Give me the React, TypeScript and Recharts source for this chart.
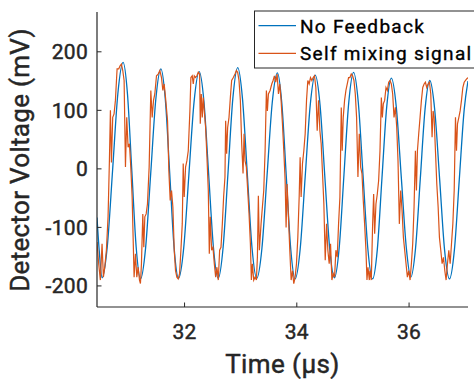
import React from 'react';
import { LineChart, Line, XAxis, YAxis } from 'recharts';

// ---- data ----
const seriesNames = ['No Feedback', 'Self mixing signal'];
const seriesColors = ['#0072BD', '#D95319'];
const xTicks = [32, 34, 36];
const yTicks = [-200, -100, 0, 100, 200];
const xDomain: [number, number] = [30.44, 37.05];
const yDomain: [number, number] = [-236, 268];
const xLabel = 'Time (µs)';
const yLabel = 'Detector Voltage (mV)';

// time (µs), voltage (mV)
const noFeedback: [number, number][] = [
  [30.44, -83], [30.48, -140], [30.53, -186],
  [30.624, -132], [30.718, -2], [30.811, 128], [30.905, 182],
  [30.983, 128], [31.06, -3], [31.138, -134], [31.215, -188],
  [31.306, -135], [31.397, -8], [31.487, 118], [31.578, 171],
  [31.657, 119], [31.736, -8], [31.814, -135], [31.893, -187],
  [31.985, -135], [32.077, -10], [32.169, 114], [32.261, 166],
  [32.346, 114], [32.43, -10], [32.515, -135], [32.6, -187],
  [32.687, -134], [32.774, -7], [32.86, 120], [32.947, 173],
  [33.032, 120], [33.117, -7], [33.201, -134], [33.286, -187],
  [33.378, -136], [33.47, -11], [33.562, 113], [33.654, 164],
  [33.733, 112], [33.812, -12], [33.891, -136], [33.97, -188],
  [34.06, -137], [34.149, -14], [34.239, 109], [34.328, 160],
  [34.414, 109], [34.499, -13], [34.585, -135], [34.67, -186],
  [34.755, -135], [34.84, -10], [34.926, 114], [35.011, 165],
  [35.096, 113], [35.18, -11], [35.265, -136], [35.35, -188],
  [35.434, -138], [35.517, -16], [35.601, 105], [35.684, 155],
  [35.773, 105], [35.862, -15], [35.951, -135], [36.03, -185],
  [36.115, -136], [36.2, -17], [36.285, 102], [36.369, 151],
  [36.457, 101], [36.545, -18], [36.632, -138], [36.72, -188],
  [36.808, -138], [36.895, -18], [36.983, 102], [37.05, 150],
];

const selfMixing: [number, number][] = [
  [30.44, -125], [30.47, -162], [30.5, -190], [30.53, -128], [30.554, -185],
  [30.578, -168], [30.607, -139], [30.637, -82], [30.661, 14], [30.679, 100],
  [30.697, 11], [30.72, 88], [30.744, 94], [30.768, 117], [30.798, 171],
  [30.828, 171], [30.851, 176], [30.875, 179], [30.899, 168], [30.923, 151],
  [30.947, 3], [30.97, 88], [30.994, 37], [31.018, 43], [31.042, 3],
  [31.066, -48], [31.101, -185], [31.125, -145], [31.149, -185], [31.173, -168],
  [31.197, -190], [31.214, -196], [31.232, -162], [31.256, -77], [31.274, -134],
  [31.292, -82], [31.316, -77], [31.339, -60], [31.369, 3], [31.399, 134],
  [31.423, 88], [31.447, 117], [31.47, 128], [31.5, 159], [31.53, 162],
  [31.56, 168], [31.589, 156], [31.613, 134], [31.637, 145], [31.661, 122],
  [31.697, 82], [31.72, -3], [31.744, -54], [31.768, -37], [31.792, -65],
  [31.816, -139], [31.839, -174], [31.863, -185], [31.887, -188], [31.911, -179],
  [31.935, -139], [31.959, -94], [31.976, 9], [31.994, -48], [32.018, 3],
  [32.042, 14], [32.066, 31],
  [32.095, 99], [32.113, 156], [32.137, 159], [32.155, 145], [32.173, 159],
  [32.196, 156], [32.22, 159], [32.244, 165], [32.268, 162], [32.28, 77],
  [32.298, 128], [32.316, 88], [32.333, 122], [32.351, 99], [32.375, 71],
  [32.399, 20], [32.423, -37], [32.441, -145], [32.458, -82], [32.482, -139],
  [32.506, -134], [32.53, -162], [32.554, -185], [32.577, -168], [32.601, -190],
  [32.625, -139], [32.649, -134], [32.673, -94], [32.696, -48], [32.72, -14],
  [32.732, 82], [32.75, 26], [32.768, 71], [32.792, 88], [32.816, 122],
  [32.839, 151], [32.869, 156], [32.899, 162], [32.923, 168], [32.946, 165],
  [32.97, 151], [32.994, 117], [33.018, 43], [33.042, -8], [33.06, 60],
  [33.077, 14], [33.101, 3], [33.125, -37], [33.149, -77], [33.173, -128],
  [33.19, -190], [33.208, -162], [33.232, -190], [33.256, -185], [33.28, -190],
  [33.298, -150], [33.315, -46], [33.333, -139], [33.363, -94], [33.387, -65],
  [33.411, -37], [33.435, 31], [33.458, 134], [33.476, 99], [33.494, 128],
  [33.524, 134], [33.554, 145], [33.577, 151], [33.601, 159], [33.625, 148],
  [33.649, 162],
  [33.673, 128], [33.696, 145], [33.72, 117], [33.744, 77], [33.768, 31],
  [33.792, -20], [33.809, -100], [33.827, -26], [33.851, -82], [33.875, -139],
  [33.899, -190], [33.923, -174], [33.946, -196], [33.97, -185], [33.994, -162],
  [34.018, -117], [34.042, -48], [34.059, 20], [34.077, -48], [34.101, 9],
  [34.125, 31], [34.149, 60], [34.173, 117], [34.196, 151], [34.22, 145],
  [34.244, 156], [34.268, 151], [34.292, 156], [34.315, 159], [34.339, 139],
  [34.363, 65], [34.387, 117], [34.411, 65], [34.434, 43], [34.458, -8],
  [34.482, -60], [34.506, -156], [34.53, -94], [34.553, -139], [34.577, -162],
  [34.601, -128], [34.625, -190], [34.649, -179], [34.673, -185], [34.696, -139],
  [34.72, -151], [34.744, -94], [34.768, -48], [34.792, 105], [34.809, 31],
  [34.827, 88], [34.851, 117], [34.875, 134], [34.899, 145], [34.922, 156],
  [34.946, 156], [34.97, 162], [34.994, 159], [35.018, 151], [35.042, 128],
  [35.065, 88], [35.089, -14], [35.113, 60], [35.137, 3], [35.161, -8],
  [35.184, -54], [35.208, -94], [35.232, -139], [35.25, -190], [35.268, -168],
  [35.292, -190],
  [35.303, -174], [35.327, -190], [35.351, -94], [35.369, -43], [35.387, -111],
  [35.41, -60], [35.434, -43], [35.458, -20], [35.482, 31], [35.506, 122],
  [35.524, 88], [35.541, 111], [35.565, 117], [35.589, 139], [35.613, 134],
  [35.637, 148], [35.66, 151], [35.684, 145], [35.708, 128], [35.732, 88],
  [35.756, 105], [35.78, 71], [35.803, 14], [35.827, -94], [35.851, -37],
  [35.875, -71], [35.899, -117], [35.922, -139], [35.946, -162], [35.97, -185],
  [35.994, -174], [36.018, -190], [36.041, -162], [36.065, -128], [36.089, -65],
  [36.113, 31], [36.131, -37], [36.149, 31], [36.172, 60], [36.196, 88],
  [36.22, 117], [36.244, 139], [36.268, 145], [36.291, 148], [36.315, 139],
  [36.339, 145], [36.363, 148], [36.387, 128], [36.41, 54], [36.428, 99],
  [36.446, 88], [36.47, 31], [36.494, -26], [36.518, -65], [36.541, -117],
  [36.565, -139], [36.589, -162], [36.613, -151], [36.637, -174], [36.66, -190],
  [36.684, -162], [36.708, -139], [36.732, -162], [36.756, -128], [36.78, -94],
  [36.804, -37], [36.827, 88], [36.845, 31], [36.863, 77], [36.887, 88],
  [36.91, 99], [36.934, 117], [36.958, 139], [36.982, 148], [37.006, 151],
  [37.03, 154], [37.05, 156],
];

// ---- styling / layout ----
const FONT = 'Roboto, "Noto Sans", sans-serif';
const INK = '#262626';
const W = 474;
const H = 379;
const Y_AXIS_W = 97;
const X_AXIS_H = 72;
const TICK_LEN = 4.5;
const Y_TICK_GAP = 9;
const TEXT_STROKE = 0.45;

const toRows = (pts: [number, number][]) => pts.map(([t, v]) => ({ t, v }));
const blueRows = toRows(noFeedback);
const orangeRows = toRows(selfMixing);

const YTick = (props: any) => {
  const { x, y, payload } = props;
  const axisX = x + Y_TICK_GAP;
  return (
    <g>
      <line x1={axisX} x2={axisX + TICK_LEN} y1={y} y2={y} stroke={INK} strokeWidth={1} />
      <text x={x} y={y} dy="0.36em" textAnchor="end" fontFamily={FONT} fontSize={21} letterSpacing={0.3}
        fill={INK} stroke={INK} strokeWidth={TEXT_STROKE}>
        {payload.value}
      </text>
    </g>
  );
};

const XTick = (props: any) => {
  const { x, y, payload } = props;
  return (
    <g>
      <line x1={x} x2={x} y1={y} y2={y - TICK_LEN} stroke={INK} strokeWidth={1} />
      <text x={x} y={y + 32} textAnchor="middle" fontFamily={FONT} fontSize={21} letterSpacing={0.3}
        fill={INK} stroke={INK} strokeWidth={TEXT_STROKE}>
        {payload.value}
      </text>
    </g>
  );
};

export default function App() {
  return (
    <div style={{ position: 'absolute', left: 0, top: 0, width: W, height: H, overflow: 'hidden', background: '#fff' }}>
      <LineChart width={W} height={H} margin={{ top: 12, right: 6, bottom: 0, left: 0 }}>
        <XAxis
          dataKey="t"
          type="number"
          domain={xDomain}
          ticks={xTicks}
          allowDataOverflow
          height={X_AXIS_H}
          tickSize={0}
          tickMargin={0}
          tickLine={false}
          interval={0}
          axisLine={{ stroke: INK, strokeWidth: 1.2 }}
          tick={(p: any) => <XTick {...p} />}
        />
        <YAxis
          type="number"
          domain={yDomain}
          ticks={yTicks}
          allowDataOverflow
          width={Y_AXIS_W}
          tickSize={0}
          tickMargin={Y_TICK_GAP}
          tickLine={false}
          interval={0}
          axisLine={{ stroke: INK, strokeWidth: 1.2 }}
          tick={(p: any) => <YTick {...p} />}
        />
        <Line
          data={blueRows}
          dataKey="v"
          name={seriesNames[0]}
          type="monotone"
          stroke={seriesColors[0]}
          strokeWidth={1.3}
          dot={false}
          activeDot={false}
          isAnimationActive={false}
        />
        <Line
          data={orangeRows}
          dataKey="v"
          name={seriesNames[1]}
          type="linear"
          stroke={seriesColors[1]}
          strokeWidth={1.2}
          dot={false}
          activeDot={false}
          isAnimationActive={false}
        />
      </LineChart>
      <svg width={W} height={H} style={{ position: 'absolute', left: 0, top: 0, pointerEvents: 'none' }}>
        <text x={282.5} y={373} textAnchor="middle" fontFamily={FONT} fontSize={26} letterSpacing={0.4}
          fill={INK} stroke={INK} strokeWidth={TEXT_STROKE}>
          {xLabel}
        </text>
        <text
          transform="translate(28.5,160) rotate(-90)"
          textAnchor="middle"
          fontFamily={FONT}
          fontSize={26}
          letterSpacing={0.3}
          fill={INK}
          stroke={INK}
          strokeWidth={TEXT_STROKE}
        >
          {yLabel}
        </text>
        <rect x={254.5} y={11} width={230} height={57} fill="#fff" stroke={INK} strokeWidth={1} />
        {seriesNames.map((name, i) => (
          <g key={name}>
            <line x1={258.5} x2={296} y1={25.7 + i * 27.6} y2={25.7 + i * 27.6} stroke={seriesColors[i]} strokeWidth={1.2} />
            <text x={300} y={33.3 + i * 27} fontFamily={FONT} fontSize={19} letterSpacing={1.3}
              fill="#000" stroke="#000" strokeWidth={0.35}>
              {name}
            </text>
          </g>
        ))}
      </svg>
    </div>
  );
}
